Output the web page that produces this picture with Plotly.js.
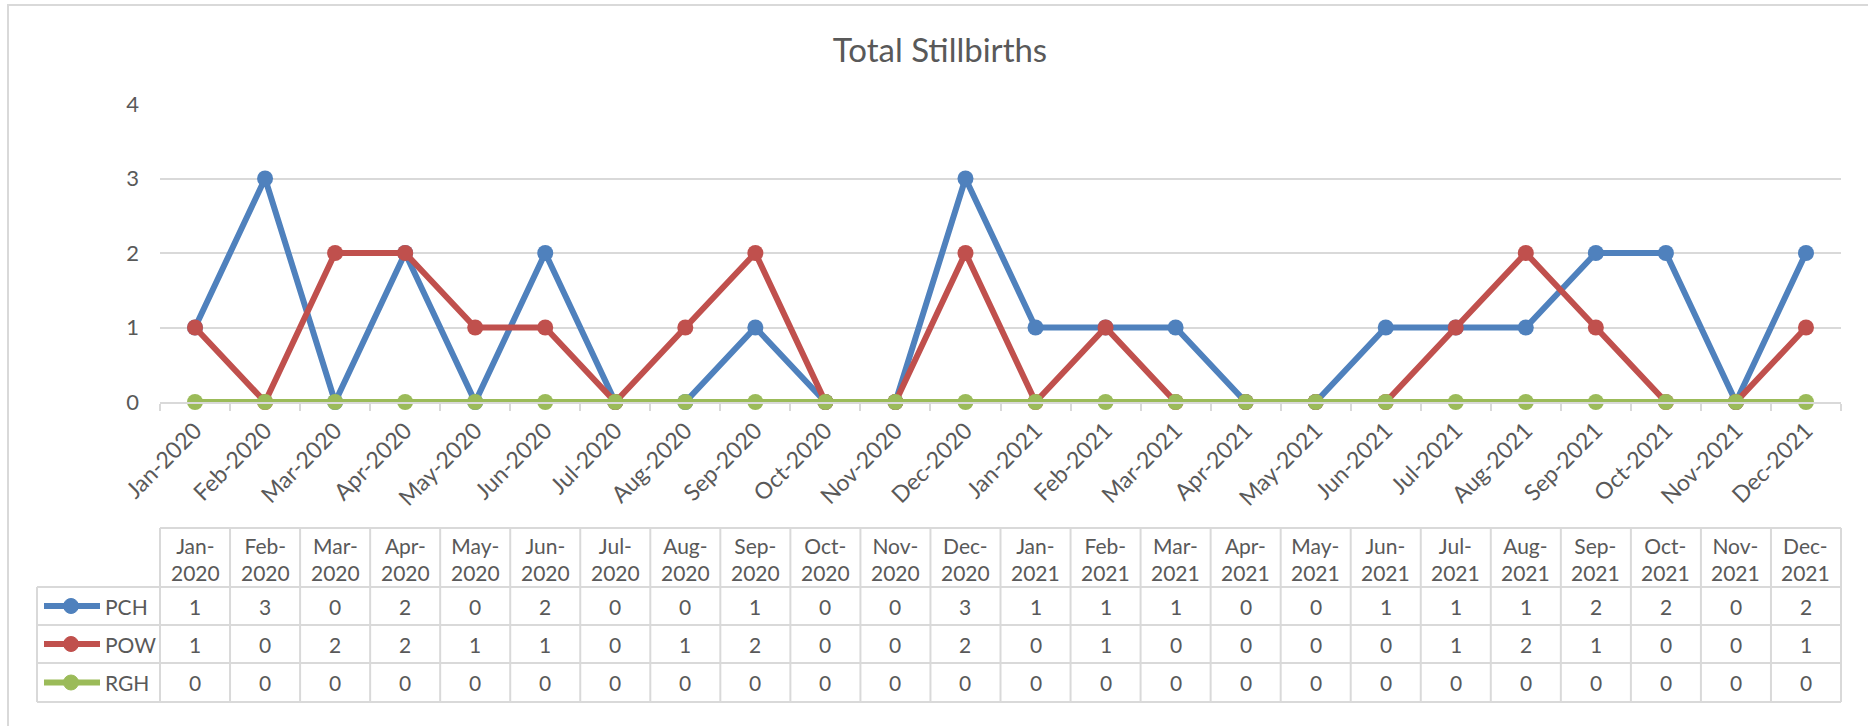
<!DOCTYPE html>
<html>
<head>
<meta charset="utf-8">
<script src="https://cdn.plot.ly/plotly-3.0.1.min.js"></script>
<style>html,body{margin:0;padding:0;background:#fff;}#chart{width:1868px;height:726px;}</style>
</head>
<body>
<div id="chart"></div>
<script>
// ---- data ----
const months = ['Jan-2020','Feb-2020','Mar-2020','Apr-2020','May-2020','Jun-2020','Jul-2020','Aug-2020','Sep-2020','Oct-2020','Nov-2020','Dec-2020',
                'Jan-2021','Feb-2021','Mar-2021','Apr-2021','May-2021','Jun-2021','Jul-2021','Aug-2021','Sep-2021','Oct-2021','Nov-2021','Dec-2021'];
const seriesNames = ['PCH','POW','RGH'];
const pch = [1,3,0,2,0,2,0,0,1,0,0,3,1,1,1,0,0,1,1,1,2,2,0,2];
const pow = [1,0,2,2,1,1,0,1,2,0,0,2,0,1,0,0,0,0,1,2,1,0,0,1];
const rgh = [0,0,0,0,0,0,0,0,0,0,0,0,0,0,0,0,0,0,0,0,0,0,0,0];
const yTicks = [0,1,2,3,4];
const chartTitle = 'Total Stillbirths';

// ---- style ----
const colors = ['#4F81BD','#C0504D','#9BBB59'];
const textColor = '#595959';
const gridColor = '#D9D9D9';
const FONT = 'Lato, "Open Sans", sans-serif';
const W = 1868, H = 726;
const M = {l:160, r:27, t:104, b:324};
const plotW = W - M.l - M.r, plotH = H - M.t - M.b;
const px = p => (p - M.l) / plotW;          // pixel x -> paper
const py = p => (H - M.b - p) / plotH;      // pixel y -> paper

const values = [pch, pow, rgh];
const traces = values.map((v, i) => ({
  type: 'scatter', mode: 'lines+markers', name: seriesNames[i],
  x: months, y: v,
  line: {color: colors[i], width: 6},
  marker: {color: colors[i], size: 16},
  cliponaxis: false, hoverinfo: 'x+y+name'
}));

// ---- data table (built from arrays) ----
const shapes = [];
const annotations = [];
const headTop = 528, rowTops = [587, 625, 663], tableBottom = 702, legLeft = 37;
const lineStyle = {color: gridColor, width: 2};

// outer chart border
shapes.push({type:'rect', xref:'paper', yref:'paper', x0:px(8), x1:px(1880), y0:py(740), y1:py(5), line:lineStyle, fillcolor:'rgba(0,0,0,0)'});

// horizontal lines
shapes.push({type:'line', xref:'paper', yref:'paper', x0:0, x1:1, y0:py(headTop), y1:py(headTop), line:lineStyle});
rowTops.concat([tableBottom]).forEach(yy => {
  shapes.push({type:'line', xref:'paper', yref:'paper', x0:px(legLeft), x1:1, y0:py(yy), y1:py(yy), line:lineStyle});
});
// vertical lines
for (let k = 0; k <= months.length; k++) {
  const edge = (k === 0 || k === months.length);
  shapes.push({type:'line', xref: edge ? 'paper' : 'x', yref:'paper',
    x0: edge ? (k === 0 ? 0 : 1) : k - 0.5, x1: edge ? (k === 0 ? 0 : 1) : k - 0.5,
    y0:py(headTop), y1:py(tableBottom), line:lineStyle});
}
shapes.push({type:'line', xref:'paper', yref:'paper', x0:px(legLeft), x1:px(legLeft), y0:py(rowTops[0]), y1:py(tableBottom), line:lineStyle});

// header cells
months.forEach((m, i) => {
  const parts = m.split('-');
  annotations.push({xref:'x', yref:'paper', x:i, y:py((headTop + rowTops[0]) / 2 + 1), xanchor:'center', yanchor:'middle',
    text: parts[0] + '-<br>' + parts[1], showarrow:false, font:{family:FONT, size:21, color:textColor}});
});
// value cells + legend keys
values.forEach((v, s) => {
  const top = rowTops[s];
  const bot = s < 2 ? rowTops[s + 1] : tableBottom;
  const cy = (top + bot) / 2;
  v.forEach((val, i) => {
    annotations.push({xref:'x', yref:'paper', x:i, y:py(cy), xanchor:'center', yanchor:'middle',
      text:String(val), showarrow:false, font:{family:FONT, size:21, color:textColor}});
  });
  shapes.push({type:'line', xref:'paper', yref:'paper', x0:px(44), x1:px(100), y0:py(cy), y1:py(cy), line:{color:colors[s], width:6}});
  shapes.push({type:'circle', xref:'paper', yref:'paper', x0:px(63.5), x1:px(78.5), y0:py(cy + 7.5), y1:py(cy - 7.5), line:{color:colors[s], width:1}, fillcolor:colors[s]});
  annotations.push({xref:'paper', yref:'paper', x:px(103), y:py(cy), xanchor:'left', yanchor:'middle',
    text:seriesNames[s], showarrow:false, font:{family:FONT, size:21, color:textColor}});
});

const layout = {
  width: W, height: H, autosize: false,
  margin: {l:M.l, r:M.r, t:M.t, b:M.b, pad:0},
  paper_bgcolor: '#FFFFFF', plot_bgcolor: '#FFFFFF',
  showlegend: false,
  title: {text: chartTitle, x: 940/W, xanchor:'center', y: 1 - 50/H, yanchor:'middle',
          font:{family:FONT, size:33, color:textColor}},
  xaxis: {type:'category', categoryarray: months, range:[-0.5, months.length - 0.5],
    showline:true, linecolor:gridColor, linewidth:2, showgrid:false, zeroline:false,
    ticks:'outside', tickson:'boundaries', ticklen:7, tickwidth:2, tickcolor:gridColor,
    tickangle:-45, ticklabelstandoff:4, tickfont:{family:FONT, size:23, color:textColor}, automargin:false},
  yaxis: {range:[0, 4], tickvals: yTicks, showline:false, zeroline:false,
    showgrid:true, gridcolor:gridColor, gridwidth:2, ticks:'', ticklabelstandoff:20,
    tickfont:{family:FONT, size:22, color:textColor}, automargin:false},
  shapes: shapes,
  annotations: annotations,
  font: {family:FONT, color:textColor}
};

Plotly.newPlot('chart', traces, layout, {displayModeBar:false, staticPlot:true});
</script>
</body>
</html>
